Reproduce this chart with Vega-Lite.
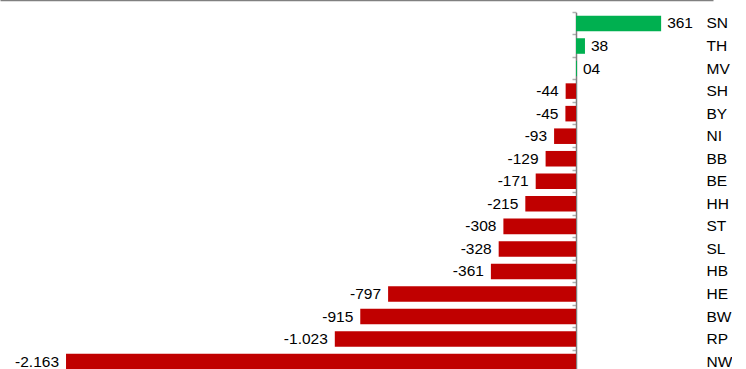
{
  "$schema": "https://vega.github.io/schema/vega-lite/v6.json",
  "autosize": {"type": "pad"},
  "padding": 0,
  "width": 713,
  "height": 369,
  "background": "white",
  "config": {"view": {"stroke": null}, "font": "Liberation Sans"},
  "data": {
    "values": [
      {"land": "SN", "value": 361, "label": "361"},
      {"land": "TH", "value": 38, "label": "38"},
      {"land": "MV", "value": 4, "label": "04"},
      {"land": "SH", "value": -44, "label": "-44"},
      {"land": "BY", "value": -45, "label": "-45"},
      {"land": "NI", "value": -93, "label": "-93"},
      {"land": "BB", "value": -129, "label": "-129"},
      {"land": "BE", "value": -171, "label": "-171"},
      {"land": "HH", "value": -215, "label": "-215"},
      {"land": "ST", "value": -308, "label": "-308"},
      {"land": "SL", "value": -328, "label": "-328"},
      {"land": "HB", "value": -361, "label": "-361"},
      {"land": "HE", "value": -797, "label": "-797"},
      {"land": "BW", "value": -915, "label": "-915"},
      {"land": "RP", "value": -1023, "label": "-1.023"},
      {"land": "NW", "value": -2163, "label": "-2.163"}
    ]
  },
  "encoding": {
    "y": {
      "field": "land",
      "type": "nominal",
      "sort": null,
      "scale": {"range": [12.2, 372.9], "paddingInner": 0, "paddingOuter": 0}
    },
    "x": {
      "field": "value",
      "type": "quantitative",
      "scale": {"domain": [-2443, 581], "nice": false, "zero": false}
    }
  },
  "layer": [
    {
      "mark": {"type": "bar", "height": {"band": 0.69}},
      "encoding": {
        "x": {
          "field": "value",
          "type": "quantitative",
          "axis": {"orient": "top", "domain": true, "domainColor": "#808080", "domainWidth": 1.5, "ticks": false, "labels": false, "grid": false, "title": null}
        },
        "y": {
          "field": "land",
          "type": "nominal",
          "sort": null,
          "axis": {"orient": "left", "offset": -576, "labels": false, "title": null, "domain": true, "domainColor": "#808080", "domainWidth": 1.5, "ticks": true, "tickSize": 4, "tickColor": "#b0b0b0", "tickWidth": 1.5, "bandPosition": 0}
        },
        "color": {
          "condition": {"test": "datum.value >= 0", "value": "#00b050"},
          "value": "#c00000"
        }
      }
    },
    {
      "transform": [{"filter": "datum.value >= 0"}],
      "mark": {"type": "text", "align": "left", "baseline": "middle", "dx": 6, "fontSize": 15.5, "color": "#000000"},
      "encoding": {
        "text": {"field": "label"},
        "y": {
          "field": "land",
          "type": "nominal",
          "sort": null,
          "axis": {"orient": "right", "domain": false, "ticks": false, "labelAlign": "left", "labelPadding": -7, "labelFontSize": 15.5, "labelColor": "#000000", "labelFont": "Liberation Sans", "title": null}
        }
      }
    },
    {
      "transform": [{"filter": "datum.value < 0"}],
      "mark": {"type": "text", "align": "right", "baseline": "middle", "dx": -7, "fontSize": 15.5, "color": "#000000"},
      "encoding": {
        "text": {"field": "label"},
        "y": {"field": "land", "type": "nominal", "sort": null, "axis": null}
      }
    }
  ],
  "resolve": {"axis": {"y": "independent"}}
}
